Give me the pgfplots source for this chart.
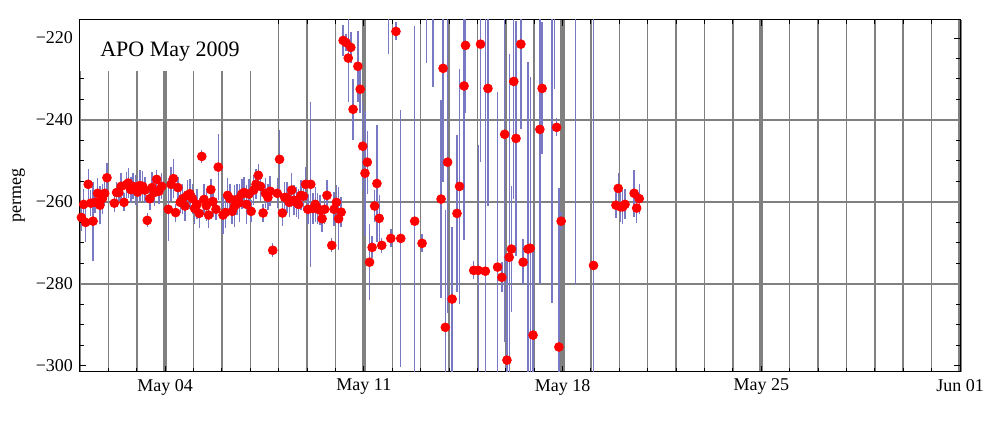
\documentclass[border=0pt]{standalone}
\usepackage{pgfplots}
\pgfplotsset{compat=1.18}
\usepackage{pgfplotstable}
\usepackage{fontspec}
\setmainfont{Liberation Serif}
\definecolor{barcol}{RGB}{120,120,195}

\pgfplotstableread{
x y e
1.05 -263.8 2.5
1.13 -260.6 3.0
1.20 -265.0 4.0
1.29 -255.7 3.0
1.38 -260.3 2.5
1.46 -264.7 9.0
1.53 -260.1 2.0
1.62 -257.9 3.0
1.70 -260.8 4.0
1.79 -259.2 3.0
1.87 -257.9 2.5
1.95 -254.1 3.0
2.21 -260.3 1.5
2.29 -257.7 2.0
2.37 -257.7 1.5
2.45 -256.2 2.5
2.55 -260.1 1.5
2.63 -255.8 2.5
2.70 -255.4 3.0
2.79 -257.0 2.5
2.87 -256.2 2.5
2.95 -257.1 3.0
3.03 -257.6 2.5
3.11 -256.0 3.0
3.21 -256.2 3.0
3.29 -257.1 2.5
3.37 -264.5 1.0
3.46 -259.2 2.0
3.54 -256.5 3.0
3.62 -257.7 2.5
3.70 -254.5 1.5
3.78 -257.4 2.5
3.88 -256.2 2.5
4.11 -261.8 7.0
4.21 -255.7 3.5
4.29 -254.3 4.0
4.37 -262.6 1.5
4.45 -256.5 2.0
4.53 -260.1 2.0
4.62 -259.2 3.0
4.70 -261.0 3.0
4.78 -258.4 3.0
4.87 -258.0 3.0
4.96 -259.2 3.0
5.04 -261.6 3.0
5.12 -260.6 3.0
5.20 -262.8 3.0
5.29 -248.9 1.0
5.37 -259.4 3.0
5.45 -260.9 3.0
5.53 -263.2 2.5
5.61 -257.0 2.0
5.68 -259.9 3.0
5.79 -261.8 2.0
5.87 -251.5 7.3
6.04 -263.2 4.0
6.12 -262.6 3.0
6.20 -258.4 3.5
6.28 -259.2 3.0
6.36 -262.3 2.5
6.45 -261.0 4.5
6.53 -259.4 3.0
6.61 -260.2 4.0
6.70 -258.1 3.0
6.78 -257.7 3.0
6.87 -260.6 4.0
6.95 -258.1 3.0
7.03 -262.3 2.0
7.12 -257.1 3.0
7.20 -255.7 3.0
7.28 -253.5 2.0
7.36 -256.2 3.0
7.45 -262.7 1.5
7.53 -257.9 3.0
7.62 -258.9 2.5
7.70 -257.4 3.0
7.79 -271.8 1.0
7.95 -257.9 3.0
8.03 -249.6 6.5
8.13 -262.7 2.5
8.21 -258.9 3.0
8.29 -258.9 3.0
8.37 -260.1 3.0
8.46 -257.1 3.5
8.54 -259.6 3.0
8.62 -260.1 3.0
8.70 -260.6 3.0
8.78 -258.4 3.0
8.87 -258.6 3.0
8.95 -255.7 3.5
9.03 -261.8 3.0
9.13 -255.7 19.5
9.21 -261.6 3.0
9.29 -260.6 3.5
9.37 -261.6 3.0
9.45 -262.0 3.0
9.53 -264.1 2.5
9.62 -261.8 3.0
9.70 -258.4 3.0
9.87 -270.6 1.0
9.95 -261.8 3.5
10.03 -260.1 3.5
10.11 -264.1 7.0
10.20 -262.5 3.0
10.27 -220.6 3.0
10.37 -221.1 1.5
10.45 -224.9 10.0
10.54 -222.3 3.0
10.62 -237.4 6.7
10.79 -226.9 8.0
10.87 -232.5 5.0
10.96 -246.4 10.0
11.04 -253.0 14.6
11.12 -250.3 7.0
11.20 -274.7 8.6
11.29 -271.1 2.0
11.38 -261.0 3.3
11.46 -255.5 13.5
11.54 -264.0 5.0
11.63 -270.6 1.2
11.87 -210.0 13.3
11.95 -268.9 1.5
12.13 -218.4 1.5
12.30 -268.9 30.6
12.79 -264.7 47.0
13.05 -270.1 1.5
13.21 -205.0 20.4
13.44 -208.0 23.3
13.72 -259.3 23.5
13.79 -227.4 27.0
13.87 -290.6 28.0
13.95 -250.3 36.0
14.11 -283.7 17.0
14.28 -262.8 18.4
14.37 -256.2 28.0
14.53 -231.7 37.0
14.58 -221.8 15.7
14.87 -276.7 1.5
15.03 -276.7 30.0
15.11 -221.5 28.0
15.28 -276.9 100.0
15.37 -232.3 28.0
15.71 -275.9 42.0
15.86 -278.4 3.0
15.96 -243.5 50.0
16.04 -298.6 25.0
16.12 -273.5 49.0
16.20 -271.5 14.6
16.28 -230.6 28.0
16.36 -244.5 28.0
16.53 -221.5 20.0
16.61 -274.7 5.0
16.78 -271.5 45.0
16.86 -271.3 41.0
16.96 -292.5 20.0
17.20 -242.3 37.0
17.28 -232.3 15.4
17.63 -200.0 84.0
17.71 -205.0 26.8
17.79 -241.8 1.5
17.87 -295.4 38.0
17.95 -264.7 1.5
18.46 -200.0 79.7
19.09 -275.5 100.0
19.88 -260.8 2.5
19.96 -256.7 3.0
20.04 -261.2 3.0
20.12 -261.2 3.5
20.20 -260.6 3.0
20.52 -257.9 5.0
20.61 -261.5 3.0
20.70 -259.2 3.0
}\data

\begin{document}
\begin{tikzpicture}
\begin{axis}[
  scale only axis, width=440pt, height=176pt,
  xmin=1, xmax=32, ymin=-301.5, ymax=-215.6,
  xtick={4,11,18,25,32},
  xticklabels={May 04,May 11,May 18,May 25,Jun 01},
  minor xtick={1,...,32},
  ytick={-300,-280,-260,-240,-220},
  yticklabels={−300,−280,−260,−240,−220},
  minor ytick={-300,-295,...,-215},
  xmajorgrids, xminorgrids,
  major x grid style={draw=gray, line width=2.2pt},
  minor x grid style={draw=gray, line width=0.75pt},
  tick style={black, line width=0.5pt},
  major tick length=3pt, minor tick length=2pt,
  ticklabel style={font=\fontsize{9}{11}\selectfont},
  ylabel={permeg},
  ylabel style={font=\fontsize{9}{11}\selectfont, at={(axis description cs:-0.0545,0.5)}, anchor=south},
  axis line style={line width=0.5pt},
]
\draw[gray, line width=0.75pt] (axis cs:1,-240) -- (axis cs:32,-240);
\draw[gray, line width=0.75pt] (axis cs:1,-260) -- (axis cs:32,-260);
\draw[gray, line width=0.75pt] (axis cs:1,-280) -- (axis cs:32,-280);
\fill[white] (axis cs:1,-228.1) rectangle (axis cs:7.5,-215.6);
\node[anchor=base west, font=\fontsize{11}{13}\selectfont, inner sep=0pt] at (axis cs:1.7,-224.5) {APO May 2009};
\addplot[draw=none, mark=none,
  error bars/.cd, y dir=both, y explicit,
  error bar style={draw=barcol, line width=0.7pt},
  error mark options={draw=barcol, mark size=1.4pt, line width=0.7pt}]
  table[x=x, y=y, y error=e] {\data};
\addplot[only marks, mark=*, mark size=2.2pt, mark options={fill=red, draw=red}]
  table[x=x, y=y] {\data};
\end{axis}
\pgfresetboundingbox
\path (-40pt,-25pt) rectangle (460pt,186pt);
\end{tikzpicture}
\end{document}
